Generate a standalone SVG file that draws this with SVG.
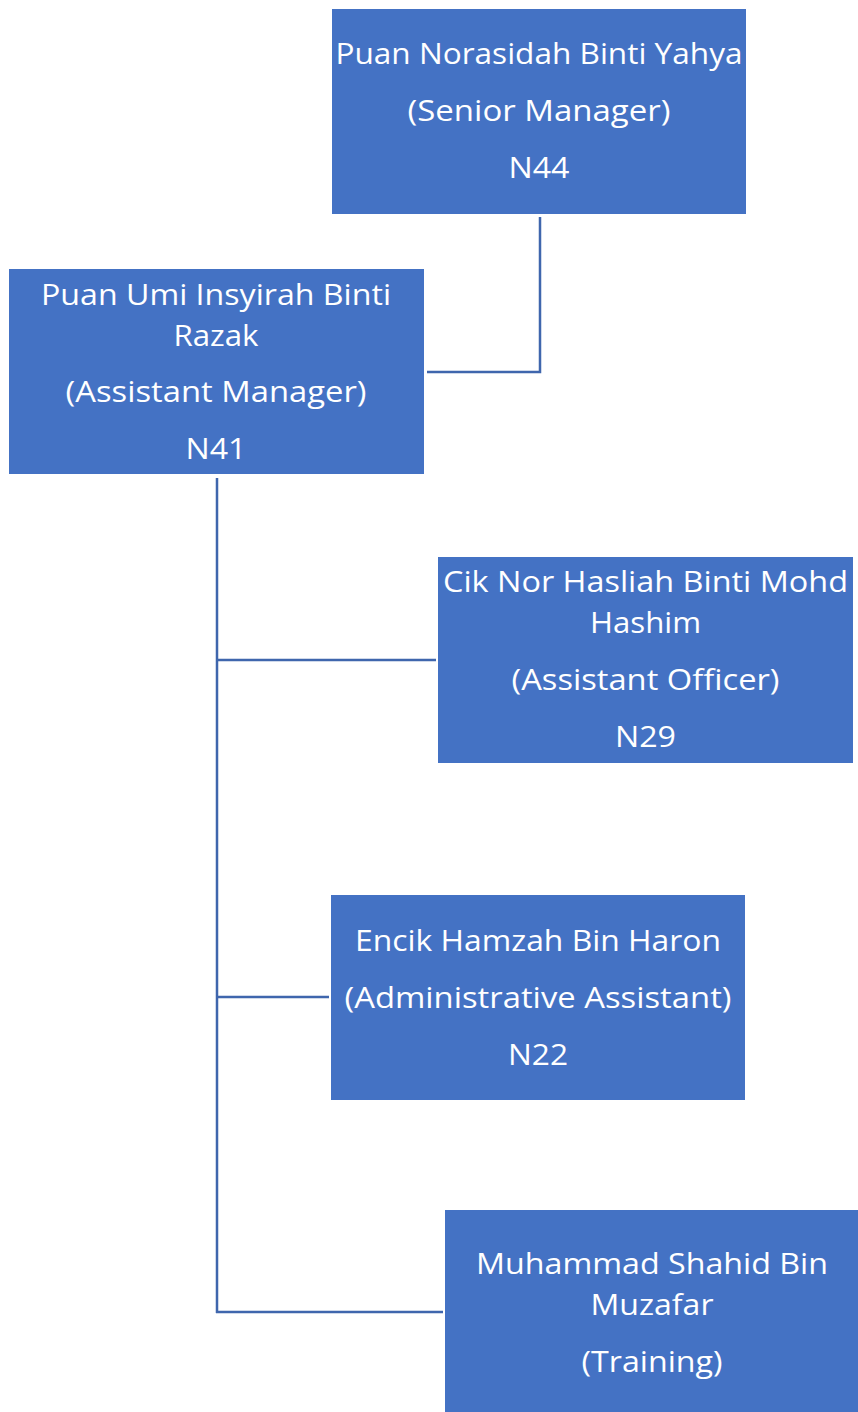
<svg xmlns="http://www.w3.org/2000/svg" width="858" height="1412" viewBox="0 0 858 1412">
<style>
.box{fill:#4472C4;}
.t{font-family:"Open Sans","Noto Sans","Liberation Sans",sans-serif;font-size:30px;fill:#FFFFFF;text-anchor:middle;}
.c{fill:none;stroke:#3F66AD;stroke-width:2.5;}
</style>
<rect width="858" height="1412" fill="#FFFFFF"/>
<g id="connectors">
<polyline class="c" points="540,217 540,372 427,372"/>
<line class="c" x1="217" y1="478" x2="217" y2="1313"/>
<line class="c" x1="216" y1="660" x2="436" y2="660"/>
<line class="c" x1="216" y1="997" x2="329" y2="997"/>
<line class="c" x1="216" y1="1312" x2="443" y2="1312"/>
</g>
<g id="n44">
<rect class="box" x="332" y="9" width="414" height="205"/>
<text class="t" x="539" y="64" textLength="407" lengthAdjust="spacingAndGlyphs">Puan Norasidah Binti Yahya</text>
<text class="t" x="539" y="121" textLength="263" lengthAdjust="spacingAndGlyphs">(Senior Manager)</text>
<text class="t" x="539" y="178" textLength="61" lengthAdjust="spacingAndGlyphs">N44</text>
</g>
<g id="n41">
<rect class="box" x="9" y="269" width="415" height="205"/>
<text class="t" x="216" y="305" textLength="350" lengthAdjust="spacingAndGlyphs">Puan Umi Insyirah Binti</text>
<text class="t" x="216" y="346" textLength="85" lengthAdjust="spacingAndGlyphs">Razak</text>
<text class="t" x="216" y="402" textLength="301" lengthAdjust="spacingAndGlyphs">(Assistant Manager)</text>
<text class="t" x="216" y="459" textLength="61" lengthAdjust="spacingAndGlyphs">N41</text>
</g>
<g id="n29">
<rect class="box" x="438" y="557" width="415" height="206"/>
<text class="t" x="645.5" y="592" textLength="405" lengthAdjust="spacingAndGlyphs">Cik Nor Hasliah Binti Mohd</text>
<text class="t" x="645.5" y="633" textLength="111" lengthAdjust="spacingAndGlyphs">Hashim</text>
<text class="t" x="645.5" y="690" textLength="268" lengthAdjust="spacingAndGlyphs">(Assistant Officer)</text>
<text class="t" x="645.5" y="747" textLength="61" lengthAdjust="spacingAndGlyphs">N29</text>
</g>
<g id="n22">
<rect class="box" x="331" y="895" width="414" height="205"/>
<text class="t" x="538" y="951" textLength="366" lengthAdjust="spacingAndGlyphs">Encik Hamzah Bin Haron</text>
<text class="t" x="538" y="1008" textLength="387" lengthAdjust="spacingAndGlyphs">(Administrative Assistant)</text>
<text class="t" x="538" y="1065" textLength="60" lengthAdjust="spacingAndGlyphs">N22</text>
</g>
<g id="training">
<rect class="box" x="445" y="1210" width="413" height="202"/>
<text class="t" x="652" y="1274" textLength="352" lengthAdjust="spacingAndGlyphs">Muhammad Shahid Bin</text>
<text class="t" x="652" y="1315" textLength="123" lengthAdjust="spacingAndGlyphs">Muzafar</text>
<text class="t" x="652" y="1372" textLength="141" lengthAdjust="spacingAndGlyphs">(Training)</text>
</g>
</svg>
